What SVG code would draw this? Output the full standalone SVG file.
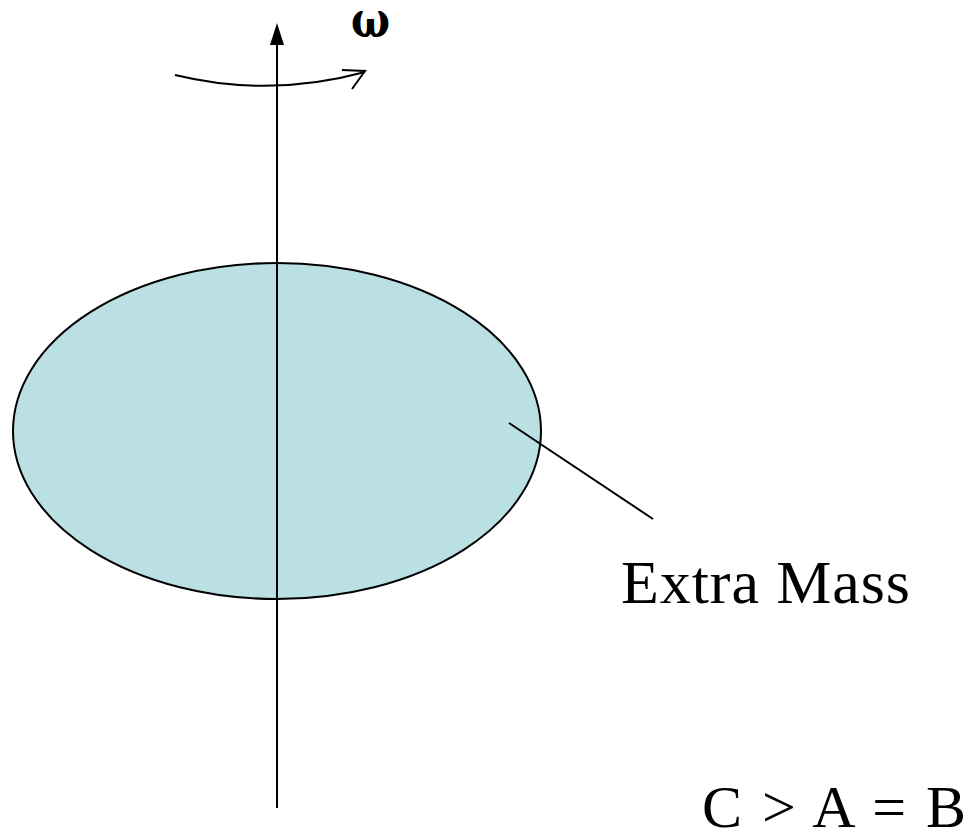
<svg xmlns="http://www.w3.org/2000/svg" width="974" height="833" viewBox="0 0 974 833">
<style>
.ln{stroke:#000;stroke-width:2;fill:none}
.t{font-family:"Liberation Serif","Times New Roman",serif;fill:#000}
</style>
<rect width="974" height="833" fill="#fff"/>
<g id="mass">
<ellipse cx="277" cy="431" rx="264" ry="168" fill="#BBE0E3" stroke="#000" stroke-width="2"/>
</g>
<g id="connectors">
<line class="ln" x1="277" y1="808" x2="277" y2="45"/>
<path d="M270 45 L277 23 L284 45 Z" fill="#000"/>
<path class="ln" d="M175 75 Q270 98 365 72"/>
<path class="ln" d="M342 70 L365 71 L352 89"/>
<line class="ln" x1="509" y1="423" x2="653" y2="519"/>
</g>
<g id="labels">
<text x="351" y="37" font-size="50" font-family="'DejaVu Serif',serif" font-weight="bold" fill="#000" textLength="39" lengthAdjust="spacingAndGlyphs">ω</text>
<text class="t" x="621" y="603" font-size="62" textLength="289" lengthAdjust="spacing">Extra Mass</text>
<text class="t" x="702" y="827" font-size="60" textLength="264" lengthAdjust="spacing">C &gt; A = B</text>
</g>
</svg>
